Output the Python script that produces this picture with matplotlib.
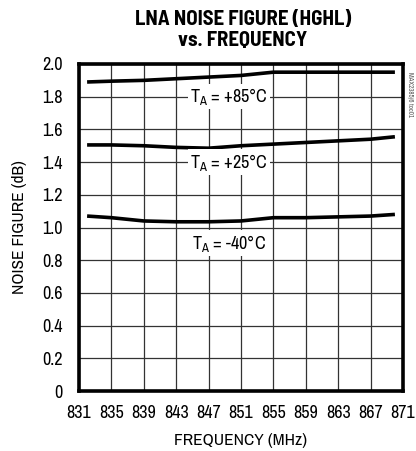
import matplotlib.pyplot as plt
from matplotlib import font_manager

# pick a narrow font if available
names = {f.name for f in font_manager.fontManager.ttflist}
narrow = 'Archivo Narrow' if 'Archivo Narrow' in names else 'Liberation Sans'
title_font = 'Barlow Semi Condensed' if 'Barlow Semi Condensed' in names else 'Liberation Sans'
plt.rcParams['font.family'] = [narrow, 'DejaVu Sans']

# data
freq = [832, 835, 839, 843, 847, 851, 855, 859, 863, 867, 870]
nf_85 = [1.89, 1.895, 1.90, 1.91, 1.92, 1.93, 1.95, 1.95, 1.95, 1.95, 1.95]
nf_25 = [1.505, 1.505, 1.50, 1.49, 1.485, 1.50, 1.51, 1.52, 1.53, 1.54, 1.555]
nf_m40 = [1.07, 1.06, 1.04, 1.035, 1.035, 1.04, 1.06, 1.06, 1.065, 1.07, 1.08]

labels = ['+85°C', '+25°C', '-40°C']
label_y = [1.8, 1.4, 0.905]

xticks = list(range(831, 872, 4))
yticks = [0, 0.2, 0.4, 0.6, 0.8, 1.0, 1.2, 1.4, 1.6, 1.8, 2.0]
ytick_labels = ['0', '0.2', '0.4', '0.6', '0.8', '1.0', '1.2', '1.4', '1.6', '1.8', '2.0']

fig = plt.figure(figsize=(4.16, 4.51), dpi=100)
ax = fig.add_axes([79/416, 1 - 391/451, 324/416, 327/451])

for y in (nf_85, nf_25, nf_m40):
    ax.plot(freq, y, color='black', lw=2.6, solid_capstyle='butt', zorder=3)

for lab, ly in zip(labels, label_y):
    ax.text(849.5, ly, 'T$_{\\mathregular{A}}$ = ' + lab, ha='center', va='center', fontsize=13,
            zorder=4, bbox=dict(facecolor='white', edgecolor='none', pad=1.5))

ax.set_xlim(831, 871)
ax.set_ylim(0, 2.0)
ax.set_xticks(xticks)
ax.set_yticks(yticks)
ax.set_yticklabels(ytick_labels)
ax.tick_params(length=0, labelsize=13)
ax.tick_params(axis='x', pad=10)
ax.tick_params(axis='y', pad=12)
ax.grid(True, color='#333333', lw=0.9)
ax.set_axisbelow(True)
for s in ax.spines.values():
    s.set_linewidth(2.6)

ax.set_xlabel('FREQUENCY (MHz)', fontsize=12.5, labelpad=9)
ax.set_ylabel('NOISE FIGURE (dB)', fontsize=12.5, labelpad=11)
fig.text(243/416, 1 - 30/451, 'LNA NOISE FIGURE (HGHL)\nvs. FREQUENCY', ha='center', va='center',
         fontsize=15, fontweight='bold', family=[title_font, 'DejaVu Sans'], linespacing=1.1)
fig.text(410/416, 1 - 95/451, 'MAX2385/6 toc01', rotation=270, ha='center', va='center',
         fontsize=5, color='#555555')

fig.savefig('out.png', dpi=100)
